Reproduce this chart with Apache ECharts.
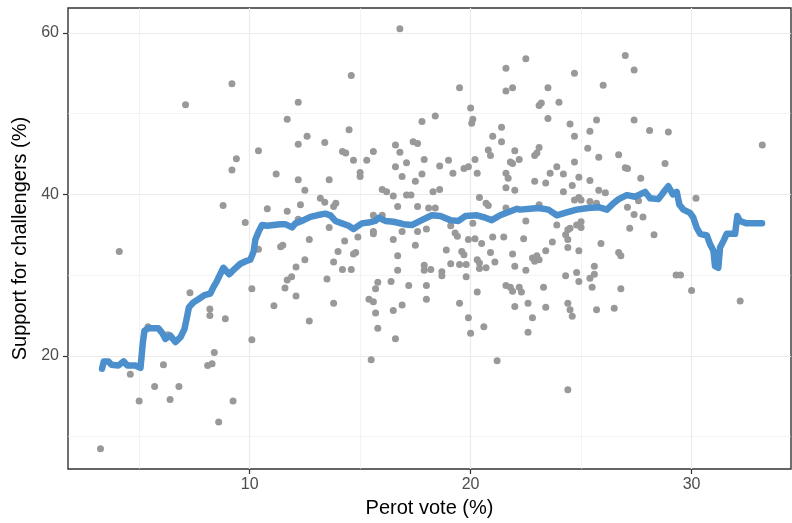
<!DOCTYPE html>
<html><head><meta charset="utf-8">
<script src="https://cdn.jsdelivr.net/npm/echarts@6/dist/echarts.min.js"></script>
<style>html,body{margin:0;padding:0;background:#fff}#c{width:792px;height:523px}</style>
</head><body><div id="c"></div>
<script>
// Perot vote (%) per district
const perotVote = [3.25,4.1,4.6,5.0,5.7,6.1,6.4,6.8,5.4,6.3,7.1,9.2,7.3,8.2,8.2,8.9,8.4,8.1,8.3,9.25,8.6,10.1,10.1,10.4,11.4,11.5,12.5,12.1,11.7,11.9,11.6,12.1,11.1,12.7,12.2,11.7,12.6,12.2,10.4,9.4,9.2,11.2,12.2,12.5,8.8,10.8,11.7,12.3,9.8,12.7,12.2,13.4,14.5,14.2,14.35,14.7,15.6,15.3,13.6,15.0,15.0,16.0,16.2,16.5,13.2,13.4,13.9,13.8,13.6,15.6,16.0,15.6,15.6,14.9,14.3,14.0,14.8,14.7,13.8,14.2,14.6,13.5,13.8,15.4,15.6,15.7,15.8,15.8,15.7,16.8,14.6,16.7,17.1,17.3,17.5,17.8,17.9,17.8,18.4,16.6,16.8,17.1,16.6,16.9,17.4,17.6,18.6,19.0,19.2,19.5,20.0,20.1,20.05,19.7,19.9,20.2,20.3,20.4,20.7,20.8,18.3,18.6,18.1,18.4,17.6,21.6,21.6,21.9,22.5,23.5,23.2,23.1,23.5,21.4,21.0,21.4,20.8,20.9,22.0,21.8,21.9,22.2,21.6,21.7,21.6,22.0,22.9,23.0,23.1,22.9,23.4,23.6,23.1,21.6,22.5,21.0,21.5,22.4,16.5,16.9,17.6,17.5,18.0,19.1,19.3,19.4,20.1,19.9,20.2,20.5,18.9,19.6,19.7,16.7,16.7,17.9,17.9,18.2,18.7,18.7,19.1,19.5,19.8,19.8,20.3,20.4,20.4,20.7,20.9,21.1,21.9,22.0,21.6,21.8,21.9,22.2,22.3,22.0,20.3,20.6,19.9,20.0,19.5,16.4,16.9,16.5,16.6,17.2,18.0,18.0,15.5,21.2,22.6,22.8,22.6,22.5,22.8,23.0,23.1,22.9,23.4,23.3,23.4,24.7,25.4,25.3,25.8,24.7,23.9,24.2,26.7,27.0,27.1,24.9,25.4,24.6,24.2,27.7,28.1,25.8,26.1,24.7,24.9,25.0,25.4,25.7,27.1,27.6,27.4,27.8,27.2,28.3,23.9,24.4,24.5,24.8,25.0,25.0,24.3,24.4,24.4,24.9,23.7,25.9,26.7,26.8,25.6,25.6,25.4,25.5,24.3,24.8,24.9,26.8,24.4,24.5,24.6,25.7,26.5,27.0,27.4,24.7,26.0,24.0,24.5,25.7,27.4,28.95,28.8,30.2,33.2,29.3,29.5,30.0,32.2,24.4];
// Support for challengers (%) per district
const challengerSupport = [8.5,32.9,17.7,14.4,16.2,18.9,14.6,16.2,23.6,22.6,51.1,53.7,27.8,25.8,25.0,24.6,20.4,18.8,19.0,14.4,11.8,28.3,22.0,33.2,33.5,33.7,31.9,31.0,29.4,29.8,28.4,27.4,26.2,24.3,51.4,49.3,47.2,46.2,45.4,44.4,43.0,42.5,41.8,40.5,38.6,38.2,37.9,38.7,36.5,34.4,36.9,46.4,48.0,45.3,45.1,44.2,45.3,44.2,41.8,42.7,42.2,40.6,40.3,39.8,39.5,39.0,38.9,38.5,35.9,37.4,37.4,35.4,35.1,34.7,34.2,32.9,32.8,32.6,31.6,30.7,30.7,29.5,26.5,27.0,26.7,25.3,23.4,29.1,28.3,60.5,54.7,38.5,39.9,39.9,41.6,42.5,44.3,49.0,49.7,46.1,45.2,43.9,43.4,42.2,46.5,46.3,43.5,44.2,42.6,53.2,50.7,49.3,48.8,43.2,43.4,44.3,42.6,39.6,38.9,38.6,40.3,40.6,38.3,38.3,38.5,55.6,52.8,53.2,56.8,53.2,51.3,51.0,49.4,48.3,47.2,46.5,45.5,44.8,45.4,44.0,43.8,44.3,42.6,42.0,40.8,40.5,44.8,45.1,45.8,41.6,41.4,42.6,38.7,38.3,36.7,34.7,34.7,34.5,34.4,35.4,35.4,33.7,35.7,36.1,35.2,34.8,36.4,34.4,34.5,33.9,33.1,32.9,32.5,32.4,30.6,31.2,30.6,30.7,30.4,29.9,31.4,31.3,31.3,29.8,31.9,31.5,30.8,30.9,32.8,31.6,32.6,31.1,28.7,28.5,28.0,28.5,27.9,26.1,27.9,23.6,24.7,22.8,26.5,29.2,26.3,25.6,22.1,28.7,28.7,27.0,19.5,19.4,26.5,24.7,22.9,30.6,32.1,32.4,31.9,31.7,33.0,28.5,26.0,47.2,47.8,45.7,44.6,44.0,43.4,42.5,44.9,43.3,43.2,42.1,41.7,41.1,40.3,42.0,47.9,40.5,40.2,39.3,39.6,39.3,39.1,38.9,38.4,39.2,37.5,37.2,35.8,35.0,36.2,35.6,35.8,36.2,36.6,35.9,35.0,34.4,33.4,33.0,34.1,33.9,32.8,32.4,31.1,30.1,29.6,28.5,29.9,30.3,29.2,28.3,26.5,25.7,24.9,25.7,25.9,57.2,55.4,55.0,53.5,51.4,48.7,49.2,49.2,47.7,43.8,39.5,46.1,30.0,30.0,28.1,26.8,15.8];
// Smoothed trend
const trendX = [3.32,3.40,3.61,3.74,4.06,4.30,4.47,4.83,5.06,5.17,5.24,5.42,5.87,6.05,6.19,6.41,6.64,6.87,7.05,7.18,7.25,7.45,7.68,7.95,8.22,8.36,8.49,8.81,9.08,9.26,9.58,9.90,10.03,10.18,10.26,10.41,10.56,10.79,11.09,11.39,11.61,11.92,12.07,12.44,12.75,13.05,13.42,13.65,13.88,14.18,14.48,14.70,14.86,15.08,15.38,15.69,15.84,16.14,16.51,16.97,17.35,17.72,18.25,18.63,19.08,19.45,19.76,20.29,20.66,20.96,21.34,21.72,22.10,22.24,22.69,23.07,23.52,23.90,24.27,24.80,25.33,25.79,26.17,26.47,26.70,27.07,27.45,27.90,28.12,28.50,28.80,28.95,29.15,29.33,29.45,29.63,29.93,30.08,30.24,30.39,30.69,30.84,30.99,31.06,31.21,31.29,31.44,31.59,31.97,32.07,32.19,32.49,33.19];
const trendY = [18.4,19.3,19.3,18.9,18.8,19.3,18.8,18.8,18.5,21.7,23.1,23.4,23.4,22.8,22.1,22.5,21.7,22.3,23.3,25.0,26.0,26.6,27.0,27.5,27.7,28.5,29.1,30.9,30.1,30.6,31.4,31.8,31.9,32.9,34.4,35.4,36.2,36.1,36.2,36.3,36.3,35.9,36.4,36.8,37.2,37.4,37.6,37.4,36.7,36.4,36.1,35.7,36.0,36.4,36.5,36.7,37.1,36.7,36.6,36.3,36.2,36.7,37.4,37.3,36.8,36.7,37.3,37.4,37.1,36.8,37.4,37.8,38.2,38.1,38.2,38.3,38.1,37.4,37.7,38.1,38.3,38.4,38.1,38.9,39.4,39.9,39.7,40.3,39.5,39.4,40.5,41.0,40.0,40.3,38.7,38.1,37.7,37.1,35.8,35.1,34.9,33.8,33.0,31.1,30.9,33.4,34.2,35.1,35.1,37.3,36.7,36.4,36.4];
// Tick values
const xMajorTicks = [10, 20, 30];
const xMinorTicks = [5, 15, 25];
const yMajorTicks = [20, 40, 60];
const yMinorTicks = [10, 30, 50];

const FONT = '"Liberation Sans", Arial, Helvetica, sans-serif';
const chart = echarts.init(document.getElementById('c'), null, {renderer: 'canvas'});
const scatterData = perotVote.map((x, i) => [x, challengerSupport[i]]);
const trendData = trendX.map((x, i) => [x, trendY[i]]);
const gridCol = '#ebebeb';
const gridLines = [].concat(
  xMinorTicks.map(v => ({xAxis: v, lineStyle: {color: gridCol, width: 0.6, type: 'solid'}})),
  yMinorTicks.map(v => ({yAxis: v, lineStyle: {color: gridCol, width: 0.6, type: 'solid'}})),
  xMajorTicks.map(v => ({xAxis: v, lineStyle: {color: gridCol, width: 1.2, type: 'solid'}})),
  yMajorTicks.map(v => ({yAxis: v, lineStyle: {color: gridCol, width: 1.2, type: 'solid'}}))
);
const axisCommon = {
  type: 'value',
  nameLocation: 'middle',
  nameTextStyle: {color: '#000', fontSize: 20, fontFamily: FONT},
  axisLine: {show: false},
  splitLine: {show: false},
};
chart.setOption({
  animation: false,
  grid: {left: 68, right: 1, top: 8, bottom: 50, show: true, borderColor: '#333333', borderWidth: 1.4, backgroundColor: 'transparent'},
  xAxis: Object.assign({}, axisCommon, {
    min: 1.78, max: 34.5,
    name: 'Perot vote (%)', nameGap: 29,
    axisTick: {show: true, length: 5, lineStyle: {color: '#333333', width: 1.2}, customValues: xMajorTicks},
    axisLabel: {customValues: xMajorTicks, color: '#4d4d4d', fontSize: 16, fontFamily: FONT, margin: 8}
  }),
  yAxis: Object.assign({}, axisCommon, {
    min: 5.98, max: 63.07,
    name: 'Support for challengers (%)', nameGap: 30,
    axisTick: {show: true, length: 5, lineStyle: {color: '#333333', width: 1.2}, customValues: yMajorTicks},
    axisLabel: {customValues: yMajorTicks, color: '#4d4d4d', fontSize: 16, fontFamily: FONT, margin: 9}
  }),
  series: [
    {
      type: 'scatter', data: scatterData, symbol: 'circle', symbolSize: 7,
      itemStyle: {color: '#999999', opacity: 1}, z: 3, silent: true,
      markLine: {silent: true, symbol: ['none', 'none'], label: {show: false}, z: 1, animation: false, data: gridLines}
    },
    {
      type: 'line', data: trendData, showSymbol: false, symbol: 'none', smooth: false, z: 4, silent: true,
      lineStyle: {color: '#4b8fcc', width: 6.5, cap: 'round', join: 'round'}
    }
  ]
});
</script>
</body></html>
